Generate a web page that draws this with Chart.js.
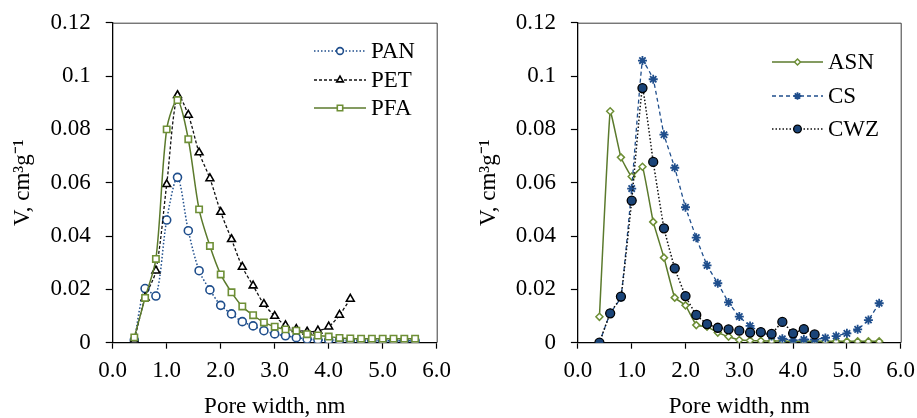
<!DOCTYPE html>
<html>
<head>
<meta charset="utf-8">
<script src="https://cdn.jsdelivr.net/npm/chart.js@4/dist/chart.umd.min.js"></script>
<style>
  html, body { margin: 0; padding: 0; background: #fff; }
  body { width: 917px; height: 418px; position: relative; overflow: hidden; }
  #c1 { position: absolute; left: 0; top: 0; }
  #c2 { position: absolute; left: 458px; top: 0; }
</style>
</head>
<body>
<canvas id="c1" width="458" height="418"></canvas>
<canvas id="c2" width="459" height="418"></canvas>
<script>
// ---------- DATA ----------
const poreWidth = [0.4,0.6,0.8,1.0,1.2,1.4,1.6,1.8,2.0,2.2,2.4,2.6,2.8,3.0,3.2,3.4,3.6,3.8,4.0,4.2,4.4,4.6,4.8,5.0,5.2,5.4,5.6];

const PAN = [0.001,0.0203,0.0175,0.046,0.062,0.042,0.027,0.0198,0.014,0.0108,0.0079,0.0063,0.0045,0.0033,0.0026,0.0019,0.0014,0.0011,0.001,0.0009,0.0008,0.0008,0.0008,0.0007,0.0007,0.0007,0.0007];
const PET = [0.001,0.0169,0.027,0.0594,0.0928,0.0854,0.0713,0.0616,0.049,0.0388,0.0284,0.0214,0.0145,0.01,0.0065,0.0051,0.0041,0.0045,0.006,0.0104,0.0164];
const PFA = [0.002,0.0168,0.0314,0.08,0.091,0.0763,0.05,0.0363,0.0256,0.0189,0.0136,0.0103,0.0076,0.006,0.005,0.0045,0.0032,0.0027,0.0023,0.0018,0.0016,0.0015,0.0015,0.0015,0.0015,0.0015,0.0015];

const ASN = [0.0097,0.0868,0.0695,0.0623,0.066,0.0453,0.0319,0.0169,0.014,0.0066,0.006,0.0038,0.0023,0.001,0.0008,0.0007,0.0006,0.0006,0.0005,0.0005,0.0005,0.0005,0.0005,0.0005,0.0005,0.0005,0.0005];
const CS  = [0,0.011,0.017,0.0578,0.1058,0.0988,0.078,0.0656,0.0508,0.0394,0.029,0.0223,0.0151,0.0098,0.0063,0.004,0.0025,0.0015,0.001,0.0012,0.0012,0.0018,0.0025,0.0035,0.005,0.0085,0.0148];
const CWZ = [0,0.011,0.0173,0.0533,0.0955,0.0678,0.0429,0.0279,0.0175,0.0104,0.007,0.0056,0.005,0.0045,0.0038,0.004,0.0033,0.0078,0.0035,0.0051,0.0031];

const xTickLabels = ['0.0','1.0','2.0','3.0','4.0','5.0','6.0'];
const yTickLabels = ['0','0.02','0.04','0.06','0.08','0.1','0.12'];
const xTitle = 'Pore width, nm';
const yTitle = 'V, cm³g⁻¹';

// ---------- STYLE ----------
const FONT = 'Liberation Serif, Times New Roman, serif';
const FS = 23;
const GREEN = '#5B7A2C';
const GREEN_M = '#6E8F36';
const BLUE = '#1F4E8C';
const BLUE_DARK = '#1A4478';

function pts(arr) { return arr.map((v, i) => ({ x: poreWidth[i], y: v })); }

const framePlugin = {
  id: 'frame',
  beforeDatasetsDraw(chart) {
    const { ctx, chartArea: a } = chart;
    ctx.save();
    ctx.strokeStyle = '#3a3a3a';
    ctx.lineWidth = 1;
    ctx.beginPath();
    ctx.moveTo(a.left, a.top + 0.5);
    ctx.lineTo(a.right + 0.5, a.top + 0.5);
    ctx.lineTo(a.right + 0.5, a.bottom);
    ctx.stroke();
    ctx.restore();
  }
};

const legendPlugin = {
  id: 'inlegend',
  afterDraw(chart, args, opts) {
    const { ctx } = chart;
    ctx.save();
    chart.data.datasets.forEach((ds, i) => {
      const y = opts.ys[i];
      ctx.strokeStyle = ds.borderColor;
      ctx.lineWidth = ds.borderWidth;
      ctx.setLineDash(ds.borderDash || []);
      ctx.beginPath();
      ctx.moveTo(opts.x0, y);
      ctx.lineTo(opts.x1, y);
      ctx.stroke();
      ctx.setLineDash([]);
      ctx.fillStyle = ds.pointBackgroundColor;
      ctx.strokeStyle = ds.pointBorderColor;
      ctx.lineWidth = ds.pointBorderWidth;
      Chart.helpers.drawPoint(ctx, {
        pointStyle: ds.pointStyle,
        radius: ds.pointRadius * 0.85,
        rotation: 0,
        borderWidth: ds.pointBorderWidth
      }, (opts.x0 + opts.x1) / 2, y);
      ctx.fillStyle = '#000';
      ctx.font = FS + 'px ' + FONT;
      ctx.textAlign = 'left';
      ctx.textBaseline = 'middle';
      ctx.fillText(ds.label, opts.tx, y + 1);
    });
    ctx.restore();
  }
};

function makeOptions(cfg) {
  return {
    responsive: false,
    animation: false,
    layout: { padding: { top: 22.7, right: cfg.padRight, left: 0, bottom: 0 } },
    plugins: {
      legend: { display: false },
      tooltip: { enabled: false },
      inlegend: cfg.legend
    },
    scales: {
      x: {
        type: 'linear',
        min: 0, max: 6,
        afterBuildTicks(scale) {
          scale.ticks = xTickLabels.map((t, i) => ({ value: i }));
        },
        afterFit(scale) { scale.height = 75.3; scale.paddingLeft = 0; scale.paddingRight = 0; },
        grid: { drawOnChartArea: false, drawTicks: true, tickLength: 6, color: '#000', tickWidth: 1.2 },
        border: { color: '#000', width: 1.3 },
        ticks: {
          color: '#000', padding: 8,
          font: { family: FONT, size: FS },
          maxRotation: 0, autoSkip: false,
          callback: (v, i) => xTickLabels[i]
        },
        title: {
          display: true, text: xTitle, color: '#000',
          font: { family: FONT, size: FS, lineHeight: 1 },
          padding: { top: 0, bottom: 0 }
        }
      },
      y: {
        type: 'linear',
        min: 0, max: 0.12,
        afterBuildTicks(scale) {
          scale.ticks = yTickLabels.map((t, i) => ({ value: i * 0.02 }));
        },
        afterFit(scale) { scale.width = cfg.yWidth; scale.paddingTop = 0; scale.paddingBottom = 0; },
        grid: { drawOnChartArea: false, drawTicks: true, tickLength: 7, color: '#000', tickWidth: 1.2 },
        border: { color: '#000', width: 1.3 },
        ticks: {
          color: '#000', padding: 15,
          font: { family: FONT, size: FS },
          autoSkip: false,
          callback: (v, i) => yTickLabels[i]
        },
        title: {
          display: true, text: yTitle, color: '#000',
          font: { family: FONT, size: FS, lineHeight: 1 },
          padding: { top: cfg.yTitlePad, bottom: 0 }
        }
      }
    }
  };
}

new Chart(document.getElementById('c1'), {
  type: 'line',
  data: {
    datasets: [
      {
        label: 'PAN', data: pts(PAN), order: 3,
        borderColor: BLUE, borderWidth: 1.5, borderDash: [1.5, 2],
        pointStyle: 'circle', pointRadius: 4, pointBorderWidth: 1.6,
        pointBackgroundColor: '#fff', pointBorderColor: BLUE, tension: 0.3
      },
      {
        label: 'PET', data: pts(PET), order: 2,
        borderColor: '#111', borderWidth: 1.3, borderDash: [3, 2],
        pointStyle: 'triangle', pointRadius: 4.5, pointBorderWidth: 1.6,
        pointBackgroundColor: '#fff', pointBorderColor: '#000', tension: 0.3
      },
      {
        label: 'PFA', data: pts(PFA), order: 1,
        borderColor: GREEN, borderWidth: 1.5, borderDash: [],
        pointStyle: 'rect', pointRadius: 4.5, pointBorderWidth: 1.6,
        pointBackgroundColor: '#fff', pointBorderColor: GREEN_M, tension: 0.3
      }
    ]
  },
  options: makeOptions({
    padRight: 21.3, yWidth: 112.7, yTitlePad: 11.5,
    legend: { x0: 314, x1: 366, tx: 371, ys: [51, 80, 108] }
  }),
  plugins: [framePlugin, legendPlugin]
});

new Chart(document.getElementById('c2'), {
  type: 'line',
  data: {
    datasets: [
      {
        label: 'ASN', data: pts(ASN), order: 3,
        borderColor: GREEN, borderWidth: 1.5, borderDash: [],
        pointStyle: 'rectRot', pointRadius: 3.5, pointBorderWidth: 1.5,
        pointBackgroundColor: '#fff', pointBorderColor: GREEN_M, tension: 0.1
      },
      {
        label: 'CS', data: pts(CS), order: 2,
        borderColor: BLUE, borderWidth: 1.3, borderDash: [4, 3],
        pointStyle: 'star', pointRadius: 4.5, pointBorderWidth: 1.8,
        pointBackgroundColor: BLUE, pointBorderColor: BLUE, tension: 0.1
      },
      {
        label: 'CWZ', data: pts(CWZ), order: 1,
        borderColor: '#111', borderWidth: 1.5, borderDash: [1.5, 2],
        pointStyle: 'circle', pointRadius: 4.5, pointBorderWidth: 1.3,
        pointBackgroundColor: BLUE_DARK, pointBorderColor: '#000', tension: 0.1
      }
    ]
  },
  options: makeOptions({
    padRight: 16.3, yWidth: 119.9, yTitlePad: 19.5,
    legend: { x0: 314, x1: 365, tx: 370, ys: [62, 96, 129] }
  }),
  plugins: [framePlugin, legendPlugin]
});
</script>
</body>
</html>
